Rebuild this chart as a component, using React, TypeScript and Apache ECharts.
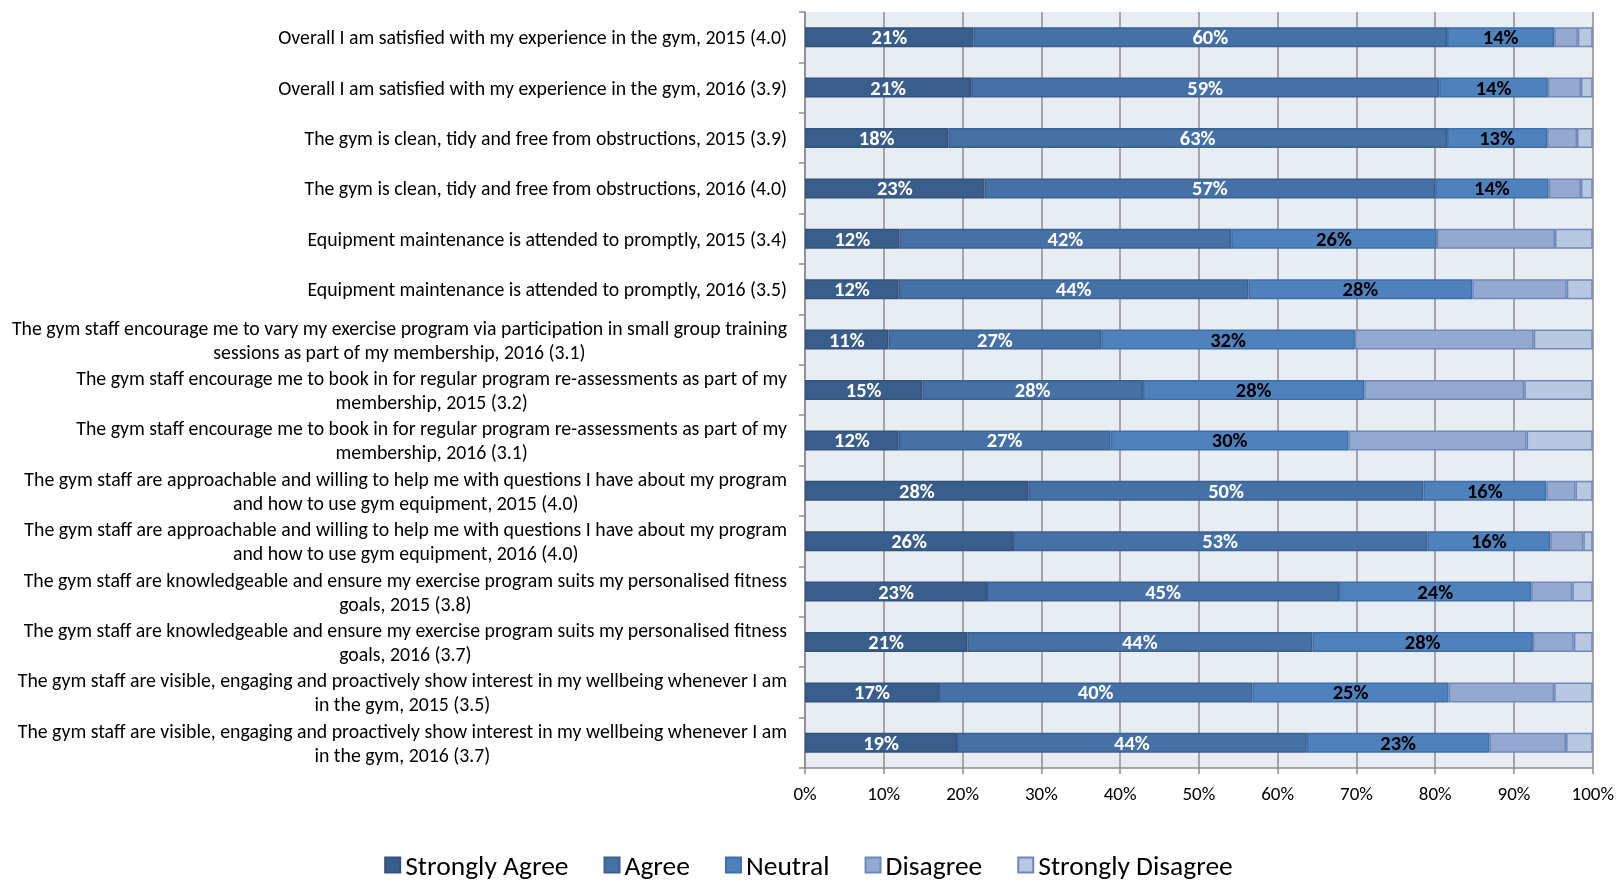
import React, { useEffect, useRef } from "react";
import * as echarts from "echarts";

const categories: string[] = [
  "Overall I am satisfied with my experience in the gym, 2015 (4.0)",
  "Overall I am satisfied with my experience in the gym, 2016 (3.9)",
  "The gym is clean, tidy and free from obstructions, 2015 (3.9)",
  "The gym is clean, tidy and free from obstructions, 2016 (4.0)",
  "Equipment maintenance is attended to promptly, 2015 (3.4)",
  "Equipment maintenance is attended to promptly, 2016 (3.5)",
  "The gym staff encourage me to vary my exercise program via participation in small group training\nsessions as part of my membership, 2016 (3.1)",
  "The gym staff encourage me to book in for regular program re-assessments as part of my\nmembership, 2015 (3.2)",
  "The gym staff encourage me to book in for regular program re-assessments as part of my\nmembership, 2016 (3.1)",
  "The gym staff are approachable and willing to help me with questions I have about my program\nand how to use gym equipment, 2015 (4.0)",
  "The gym staff are approachable and willing to help me with questions I have about my program\nand how to use gym equipment, 2016 (4.0)",
  "The gym staff are knowledgeable and ensure my exercise program suits my personalised fitness\ngoals, 2015 (3.8)",
  "The gym staff are knowledgeable and ensure my exercise program suits my personalised fitness\ngoals, 2016 (3.7)",
  "The gym staff are visible, engaging and proactively show interest in my wellbeing whenever I am\nin the gym, 2015 (3.5)",
  "The gym staff are visible, engaging and proactively show interest in my wellbeing whenever I am\nin the gym, 2016 (3.7)",
];

const stronglyAgree: number[] = [21.4, 21.1, 18.2, 22.8, 12.0, 11.9, 10.6, 14.9, 11.9, 28.4, 26.4, 23.1, 20.6, 17.0, 19.3];
const agree: number[] = [60.1, 59.4, 63.3, 57.2, 42.1, 44.4, 27.0, 28.0, 26.9, 50.1, 52.6, 44.7, 43.8, 39.8, 44.4];
const neutral: number[] = [13.6, 13.8, 12.7, 14.4, 26.1, 28.4, 32.2, 28.1, 30.2, 15.6, 15.6, 24.4, 28.0, 24.9, 23.2];
const disagree: number[] = [3.0, 4.2, 3.8, 4.1, 15.0, 12.0, 22.7, 20.3, 22.6, 3.7, 4.2, 5.2, 5.2, 13.4, 9.7];
const stronglyDisagree: number[] = [1.9, 1.5, 2.0, 1.5, 4.8, 3.3, 7.5, 8.7, 8.4, 2.2, 1.2, 2.6, 2.4, 4.9, 3.4];

const seriesNames: string[] = ["Strongly Agree", "Agree", "Neutral", "Disagree", "Strongly Disagree"];
const xTicks: number[] = [0, 10, 20, 30, 40, 50, 60, 70, 80, 90, 100];

const FONT = "Carlito, Calibri, Lato, sans-serif";

export default function App() {
  const ref = useRef<HTMLDivElement>(null);
  useEffect(() => {
    if (!ref.current) return;
    const chart = echarts.init(ref.current, undefined, { renderer: "svg" });
    const values = [stronglyAgree, agree, neutral, disagree, stronglyDisagree];
    const colors = ["#3A5E8C", "#4571A6", "#4F81BD", "#95A9D0", "#B9C7E1"];
    const borders = ["#32527C", "#3A6090", "#3F6EA6", "#6E88BA", "#6E88BA"];
    const labelColors = ["#FFFFFF", "#FFFFFF", "#000000", "#000000", "#000000"];
    chart.setOption({
      animation: false,
      textStyle: { fontFamily: FONT },
      grid: {
        left: 805,
        right: 21,
        top: 12,
        bottom: 113,
        show: true,
        backgroundColor: "#E8ECF3",
        borderWidth: 0,
      },
      legend: {
        bottom: 0,
        padding: [5, 5, 2, 5],
        left: "center",
        data: seriesNames,
        icon: "rect",
        itemWidth: 15,
        itemHeight: 15,
        itemGap: 35,
        textStyle: { fontSize: 27.5, color: "#000", fontFamily: FONT },
      },
      xAxis: {
        type: "value",
        min: xTicks[0],
        max: xTicks[xTicks.length - 1],
        interval: 10,
        axisLabel: { formatter: "{value}%", fontSize: 19, color: "#000", margin: 16, fontFamily: FONT },
        axisLine: { show: true, lineStyle: { color: "#8C8C8C", width: 1.5 } },
        axisTick: { show: true, length: 6, lineStyle: { color: "#8C8C8C", width: 1.5 } },
        splitLine: { show: true, lineStyle: { color: "#8C8C8C", width: 1.5 } },
      },
      yAxis: {
        type: "category",
        inverse: true,
        data: categories,
        axisLine: { show: true, lineStyle: { color: "#8C8C8C", width: 1.5 } },
        axisTick: { show: true, length: 6, lineStyle: { color: "#8C8C8C", width: 1.5 } },
        axisLabel: {
          margin: 18,
          align: "right",
          fontSize: 19.8,
          color: "#000",
          fontFamily: FONT,
          lineHeight: 24,
          formatter: (v: string) => v.split("\n").map((l) => `{c|${l}}`).join("\n"),
          rich: {
            c: { align: "center", fontSize: 19.8, lineHeight: 24, color: "#000", fontFamily: FONT },
          },
        },
      },
      series: seriesNames.map((name, i) => ({
        name,
        type: "bar",
        stack: "total",
        barWidth: 20,
        data: values[i],
        itemStyle: { color: colors[i], borderColor: borders[i], borderWidth: 1.5 },
        label: {
          show: i < 3,
          position: "inside",
          formatter: (p: any) => `${Math.round(p.value)}%`,
          color: labelColors[i],
          fontSize: 20.5,
          fontWeight: "bold",
          fontFamily: FONT,
        },
      })),
    });
    return () => chart.dispose();
  }, []);
  return <div ref={ref} style={{ position: "fixed", left: 0, top: 0, width: 1617, height: 881 }} />;
}
